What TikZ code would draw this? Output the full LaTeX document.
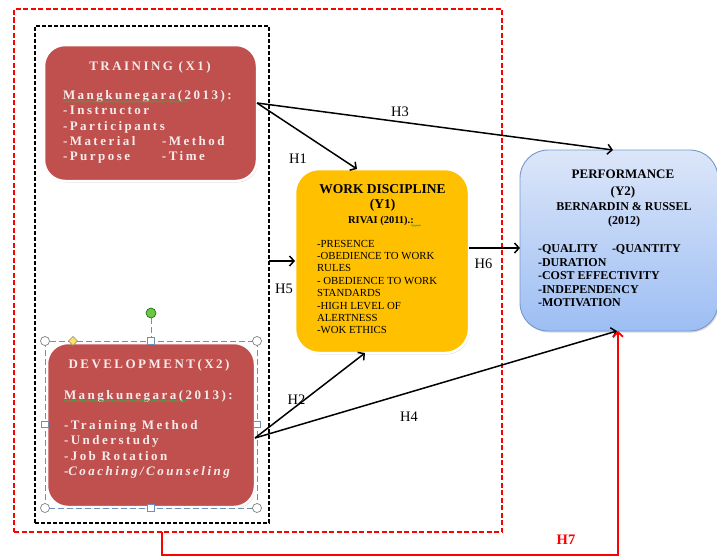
\documentclass[tikz,border=0pt]{standalone}
\usepackage{fontspec}
\setmainfont{Liberation Serif}
\newfontfamily\spacedserif[LetterSpace=19]{Liberation Serif}
\usetikzlibrary{arrows.meta,shadows,decorations.pathmorphing,shapes.geometric}

\definecolor{brick}{HTML}{C0504D}
\definecolor{amber}{HTML}{FFC000}
\definecolor{skytop}{HTML}{DCE6F9}
\definecolor{skybot}{HTML}{9DBEF3}
\definecolor{skyedge}{HTML}{7497CC}
\definecolor{pale}{HTML}{F6ECEC}
\definecolor{handle}{HTML}{6F8FB6}
\definecolor{spell}{HTML}{3FA548}
\definecolor{rotorgreen}{HTML}{72C246}
\definecolor{knob}{HTML}{FFE45C}

\begin{document}
\begin{tikzpicture}[x=1pt,y=-1pt,
  every node/.style={inner sep=0pt, outer sep=0pt},
  softshadow/.style={drop shadow={opacity=0.3, shadow xshift=1pt, shadow yshift=-1.5pt}},
  redframe/.style={draw=red, line width=1.6pt, dash pattern=on 5pt off 2.5pt},
  blackframe/.style={draw=black, line width=1.8pt, dash pattern=on 4pt off 2pt},
  redbox/.style={fill=brick, draw=white, line width=2.5pt, rounded corners=21pt, softshadow},
  goldbox/.style={fill=amber, draw=white, line width=2.5pt, rounded corners=24pt, softshadow},
  bluebox/.style={top color=skytop, bottom color=skybot, draw=skyedge, line width=0.9pt, rounded corners=28pt, softshadow},
  link/.style={draw=black, line width=1.5pt, -{Straight Barb[length=4.5pt,width=10pt]}},
  redlink/.style={draw=red, line width=1.8pt, -{Straight Barb[length=4.5pt,width=10pt]}},
  redtitle/.style={text=pale, font=\spacedserif\bfseries\fontsize{13}{15.3}\selectfont},
  redlist/.style={text=pale, align=left, font=\spacedserif\bfseries\fontsize{13}{15.3}\selectfont},
  wdtitle/.style={font=\bfseries\fontsize{13.5}{16}\selectfont},
  wdsub/.style={font=\bfseries\fontsize{10.5}{12}\selectfont},
  wdlist/.style={align=left, font=\fontsize{10.8}{12.4}\selectfont},
  pftitle/.style={font=\bfseries\fontsize{13}{15}\selectfont},
  pfsub/.style={font=\bfseries\fontsize{12}{14}\selectfont},
  pflist/.style={align=left, font=\bfseries\fontsize{12}{13.6}\selectfont},
  hlab/.style={font=\fontsize{14.5}{15}\selectfont},
  h7lab/.style={text=red, font=\bfseries\fontsize{14.5}{15}\selectfont},
  spellmark/.style={draw=spell, line width=0.5pt, decorate, decoration={snake, amplitude=0.7pt, segment length=2.5pt}},
  handleline/.style={draw=handle, line width=0.8pt, dash pattern=on 6pt off 3pt},
  cornerknob/.style={circle, draw=gray, fill=white, line width=0.7pt, minimum size=9pt},
  sideknob/.style={rectangle, draw=handle, fill=white, line width=0.7pt, minimum size=6.5pt},
  rotor/.style={circle, draw=green!45!black, fill=rotorgreen, line width=0.6pt, minimum size=10pt},
  adjuster/.style={diamond, draw=gray, fill=knob, line width=0.5pt, minimum size=9pt}
]
\useasboundingbox (0,0) rectangle (717,557);
\clip (0,0) rectangle (717,557);

% dashed group frames
\node[redframe, minimum width=488pt, minimum height=523pt] (outer) at (258,270.5) {};
\node[blackframe, minimum width=234pt, minimum height=497pt] (inner) at (152,274.5) {};

% construct boxes
\node[redbox, minimum width=213pt, minimum height=136pt] (train) at (150.5,113) {};
\node[redbox, minimum width=208pt, minimum height=164pt] (dev) at (151,425) {};
\node[goldbox, minimum width=174pt, minimum height=184pt] (wd) at (382,261) {};
\node[bluebox, minimum width=198pt, minimum height=181pt] (perf) at (619,240.5) {};

% selection handles around the development box
\draw[handleline] (45,341) rectangle (257,508);
\node[cornerknob] (k1) at (45,341) {};
\node[cornerknob] (k2) at (257,341) {};
\node[cornerknob] (k3) at (45,508) {};
\node[cornerknob] (k4) at (257,508) {};
\node[sideknob] (s1) at (151,341) {};
\node[sideknob] (s2) at (151,508) {};
\node[sideknob] (s3) at (45,424.5) {};
\node[sideknob] (s4) at (257,424.5) {};
\node[rotor] (rot) at (151,313) {};
\draw[handleline] (rot) -- (s1);
\node[adjuster] (adj) at (73,341) {};

% training text
\node[redtitle, anchor=base] (trainT) at (150,70.5) {TRAINING (X1)};
\node[redlist, anchor=north west] (trainL) at (63,90.5)
  {Mangkunegara(2013):\\-Instructor\\-Participants\\\makebox[99pt][l]{-Material}-Method\\\makebox[99pt][l]{-Purpose}-Time};
\draw[spellmark] (63,101.5) -- (188,101.5);

% development text
\node[redtitle, anchor=base] (devT) at (149,368) {DEVELOPMENT(X2)};
\node[redlist, anchor=north west] (devL) at (64,390)
  {Mangkunegara(2013):\\[15.3pt]-Training Method\\-Understudy\\-Job Rotation\\-{\itshape Coaching/Counseling}};
\draw[spellmark] (64,401) -- (188,401);

% work discipline text
\node[wdtitle, anchor=base] (wdT1) at (382.5,193.3) {WORK DISCIPLINE};
\node[wdtitle, anchor=base] (wdT2) at (382.5,208.7) {(Y1)};
\node[wdsub, anchor=base] (wdT3) at (381,223.3) {RIVAI (2011).:};
\draw[spellmark] (411,225.5) -- (421,225.5);
\node[wdlist, anchor=north west] (wdL) at (317,240)
  {-PRESENCE\\-OBEDIENCE TO WORK\\RULES\\- OBEDIENCE TO WORK\\STANDARDS\\-HIGH LEVEL OF\\ALERTNESS\\-WOK ETHICS};

% performance text
\node[pftitle, anchor=base] (pfT1) at (623,178.3) {PERFORMANCE};
\node[pftitle, anchor=base] (pfT2) at (623,195) {(Y2)};
\node[pfsub, anchor=base] (pfT3) at (624,210) {BERNARDIN \& RUSSEL};
\node[pfsub, anchor=base] (pfT4) at (624,224) {(2012)};
\node[pflist, anchor=north west] (pfL) at (538,244.5)
  {\makebox[74pt][l]{-QUALITY}-QUANTITY\\-DURATION\\-COST EFFECTIVITY\\-INDEPENDENCY\\-MOTIVATION};

% hypotheses
\draw[link] ([yshift=10pt]train.east) -- ([xshift=-25pt]wd.north);
\draw[link] ([yshift=10pt]train.east) -- ([xshift=-6pt]perf.north);
\draw[link] (inner.east |- wd.west) -- (wd.west);
\draw[link] ([yshift=13pt]wd.east) -- ([yshift=13pt]wd.east -| perf.west);
\draw[link] ([yshift=-13pt]dev.east) -- ([xshift=-17pt]wd.south);
\draw[link] ([yshift=-13pt]dev.east) -- ([xshift=-2pt]perf.south);
\draw[redlink] ([xshift=-96pt]outer.south) -- ++(0pt,-23pt) -| ([xshift=-1pt]perf.south);

\node[hlab, anchor=base] (lh1) at (298,163) {H1};
\node[hlab, anchor=base] (lh3) at (400,116) {H3};
\node[hlab, anchor=base] (lh5) at (284,293) {H5};
\node[hlab, anchor=base] (lh6) at (483.5,268) {H6};
\node[hlab, anchor=base] (lh2) at (296.5,404) {H2};
\node[hlab, anchor=base] (lh4) at (409,421.7) {H4};
\node[h7lab, anchor=base] (lh7) at (566,544) {H7};
\end{tikzpicture}
\end{document}
